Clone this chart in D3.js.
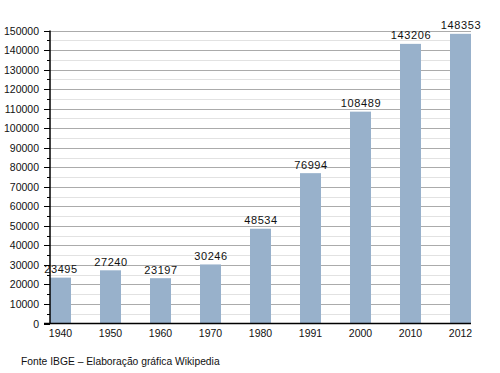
<!DOCTYPE html>
<html>
<head>
<meta charset="utf-8">
<script src="https://cdn.jsdelivr.net/npm/d3@7"></script>
<style>
  body { margin: 0; background: #fff; }
  text { font-family: "Liberation Sans", Arial, sans-serif; }
</style>
</head>
<body>
<div id="chart"></div>
<script>
const years = ["1940", "1950", "1960", "1970", "1980", "1991", "2000", "2010", "2012"];
const population = [23495, 27240, 23197, 30246, 48534, 76994, 108489, 143206, 148353];
const yTicks = [0, 10000, 20000, 30000, 40000, 50000, 60000, 70000, 80000, 90000, 100000,
                110000, 120000, 130000, 140000, 150000];
const source = "Fonte IBGE – Elaboração gráfica Wikipedia";

const width = 500;
const height = 373;
const plotLeft = 50, plotRight = 471, plotTop = 30.6, plotBottom = 323.5;

const svg = d3.select("#chart")
              .append("svg")
              .attr("width", width)
              .attr("height", height)

const x = d3.scaleBand()
            .domain(years)
            .range([plotLeft, plotRight])
            .paddingInner(0.58)
            .paddingOuter(0)

const y = d3.scaleLinear()
            .domain([0, 150000])
            .range([plotBottom, plotTop])

const py = d => Math.round(y(d)) + 0.5

// minor grid every 5000
const minor = d3.range(5000, 150000, 10000)
svg.append("g")
   .selectAll("line")
   .data(minor)
   .enter()
   .append("line")
   .attr("x1", plotLeft).attr("x2", plotRight)
   .attr("y1", py).attr("y2", py)
   .attr("stroke", "#e2e2e2")

svg.append("g")
   .selectAll("line")
   .data(yTicks.slice(1))
   .enter()
   .append("line")
   .attr("x1", plotLeft).attr("x2", plotRight)
   .attr("y1", py).attr("y2", py)
   .attr("stroke", "#ababab")

// bars
svg.append("g")
   .selectAll("rect")
   .data(years)
   .enter()
   .append("rect")
   .attr("x", d => x(d))
   .attr("width", x.bandwidth())
   .attr("y", (d, i) => y(population[i]))
   .attr("height", (d, i) => plotBottom - y(population[i]))
   .attr("fill", "#98b1cb")

svg.append("g")
   .selectAll("text")
   .data(years)
   .enter()
   .append("text")
   .attr("x", d => x(d) + x.bandwidth() / 2 + 0.5)
   .attr("y", (d, i) => y(population[i]) - 4.5)
   .attr("text-anchor", "middle")
   .attr("font-size", 11)
   .attr("letter-spacing", 0.6)
   .attr("fill", "#111")
   .text((d, i) => population[i])

// y axis
const yAxis = svg.append("g")
yAxis.append("line")
     .attr("x1", plotLeft).attr("x2", plotLeft)
     .attr("y1", plotTop).attr("y2", plotBottom)
     .attr("stroke", "#000").attr("stroke-width", 1.5)
yAxis.selectAll(".major")
     .data(yTicks)
     .enter()
     .append("line")
     .attr("x1", plotLeft - 6).attr("x2", plotLeft)
     .attr("y1", py).attr("y2", py)
     .attr("stroke", "#000")
yAxis.selectAll(".minor")
     .data(minor)
     .enter()
     .append("line")
     .attr("x1", plotLeft - 3).attr("x2", plotLeft)
     .attr("y1", py).attr("y2", py)
     .attr("stroke", "#000")
yAxis.selectAll("text")
     .data(yTicks)
     .enter()
     .append("text")
     .attr("x", plotLeft - 11)
     .attr("y", d => y(d) + 4)
     .attr("text-anchor", "end")
     .attr("font-size", 10.5)
     .attr("fill", "#111")
     .text(d => d)

// x axis
svg.append("line")
   .attr("x1", plotLeft - 6).attr("x2", plotRight)
   .attr("y1", plotBottom).attr("y2", plotBottom)
   .attr("stroke", "#000").attr("stroke-width", 1.5)

svg.append("g")
   .selectAll("text")
   .data(years)
   .enter()
   .append("text")
   .attr("x", d => x(d) + x.bandwidth() / 2)
   .attr("y", plotBottom + 13)
   .attr("text-anchor", "middle")
   .attr("font-size", 10.5)
   .attr("fill", "#111")
   .text(d => d)

svg.append("text")
   .attr("x", 21)
   .attr("y", 365)
   .attr("font-size", 10.3)
   .attr("fill", "#111")
   .text(source)
</script>
</body>
</html>
